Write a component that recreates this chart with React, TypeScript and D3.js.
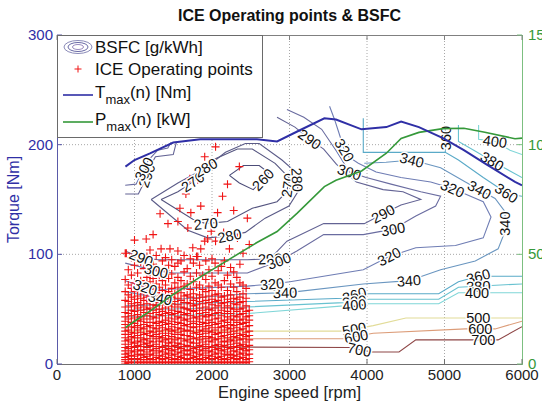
import React from "react";
import * as d3 from "d3";

const WIDTH = 542;
const HEIGHT = 406;
const FONT = "'Liberation Sans', Arial, Helvetica, sans-serif";

// ---- axis ticks ----
const SPEED_TICKS = [0, 1000, 2000, 3000, 4000, 5000, 6000];
const TORQUE_TICKS = [0, 100, 200, 300];
const POWER_TICKS = [0, 50, 100, 150];
const SPEED_GRID = [1000, 2000, 3000, 4000, 5000];
const TORQUE_GRID = [100, 200];

// ---- full-load curves ----
const FULL_LOAD_RPM = [883, 1000, 1200, 1500, 1850, 2580, 2840, 3100, 3450, 3600, 3930, 4250, 4440, 4670, 4980, 5250, 5520, 5910, 6000];
const TMAX_NM = [180, 186, 192, 202, 205, 205, 203, 212, 224, 223, 214, 216, 221, 216, 206, 195, 183, 166, 163];
const PMAX_KW = [16.6, 19.5, 24.1, 31.7, 39.7, 55.4, 60.4, 68.8, 80.9, 83.8, 88.0, 96.1, 102.8, 105.6, 107.3, 107.5, 105.7, 102.7, 103.0];

// ---- BSFC iso-lines [rpm, Nm], with label anchors ----
type IsoLine = { level: number; path: [number, number][]; labels: [number, number][] };

const ISLAND_CONTOURS: IsoLine[] = [
  { level: 260, path: [[2225, 172], [2405, 181], [2609, 181], [2737, 174], [2532, 159], [2353, 165], [2225, 172]], labels: [[2660, 168]] },
  { level: 270, path: [[1343, 150], [1560, 157], [1752, 166], [2008, 186], [2328, 196], [2520, 196], [2814, 183], [2993, 170], [2967, 157], [2839, 148], [2520, 142], [2200, 130], [1919, 128], [1752, 132], [1343, 150]], labels: [[1752, 166], [1919, 128], [2980, 163]] },
  { level: 280, path: [[1215, 150], [1560, 165], [1919, 179], [2174, 193], [2430, 201], [2609, 201], [2903, 186], [3095, 174], [3108, 157], [2993, 144], [2686, 133], [2430, 120], [2225, 117], [1944, 115], [1688, 122], [1215, 150]], labels: [[1919, 179], [3100, 168], [2225, 117]] },
];

const MID_LOAD_CONTOURS: IsoLine[] = [
  { level: 290, path: [[880, 155], [1050, 155], [1140, 168], [1200, 180], [1270, 189], [1500, 191], [1540, 202]], labels: [[1150, 172]] },
  { level: 300, path: [[880, 163], [1020, 164], [1100, 175], [1180, 186], [1300, 195], [1430, 197], [1470, 202]], labels: [[1120, 178]] },
  { level: 290, path: [[880, 103], [1087, 97], [1305, 95], [2456, 95], [2750, 96], [2967, 112], [3441, 128], [3965, 128], [4208, 137], [4438, 145], [4694, 150], [4464, 157], [4208, 159], [3863, 166], [3607, 182], [3441, 196], [3261, 205], [3070, 216], [2839, 225]], labels: [[1087, 97], [2750, 96], [4208, 137], [3261, 205]] },
  { level: 300, path: [[880, 92], [1280, 85], [1500, 83], [2456, 83], [2865, 94], [3095, 103], [3441, 118], [3952, 118], [4336, 123], [4630, 135], [4886, 144], [4950, 153], [4694, 157], [4310, 164], [3990, 170], [3773, 175], [3607, 194], [3415, 214], [3185, 225], [2967, 232]], labels: [[1280, 85], [2865, 94], [4336, 123], [3773, 175]] },
  { level: 320, path: [[880, 76], [1138, 70], [1370, 68], [2456, 71], [2775, 73], [3006, 75], [3952, 86], [4285, 98], [4630, 106], [5142, 108], [5500, 115], [5600, 134], [5500, 148], [5103, 160], [4822, 166], [4438, 170], [4118, 175], [3888, 183], [3760, 189], [3709, 195], [3632, 212], [3581, 223], [3517, 235]], labels: [[1138, 70], [2775, 73], [4285, 98], [5103, 160], [3709, 195]] },
];

const HIGH_LOAD_CONTOURS: IsoLine[] = [
  { level: 340, path: [[880, 66], [1330, 60], [1560, 59], [2456, 64], [2942, 65], [3095, 66], [3952, 73], [4541, 76], [4950, 86], [5397, 94], [5692, 105], [5781, 121], [5781, 139], [5653, 151], [5270, 166], [4950, 179], [4579, 186], [4246, 184], [3965, 183]], labels: [[1330, 60], [2942, 65], [4541, 76], [5781, 128], [5460, 160], [4579, 186]] },
  { level: 360, path: [[6000, 153], [5820, 155], [5500, 170], [5180, 186], [5010, 193], [3952, 193], [3952, 224]], labels: [[5820, 158]] },
  { level: 360, path: [[5010, 193], [5010, 205], [5010, 218]], labels: [[5010, 206]] },
  { level: 380, path: [[5180, 218], [5180, 203], [5400, 194], [5615, 185], [5845, 176], [6000, 170]], labels: [[5615, 185]] },
  { level: 400, path: [[5440, 218], [5440, 205], [5650, 203], [5845, 195], [6000, 191]], labels: [[5650, 203]] },
  { level: 360, path: [[880, 53], [2456, 57], [3696, 60], [3837, 63], [4029, 64], [4925, 64], [5180, 75], [5436, 80], [6000, 80]], labels: [[3837, 63], [5436, 80]] },
  { level: 380, path: [[880, 49], [2456, 52], [3696, 56], [4029, 59], [4925, 59], [5180, 70], [6000, 73]], labels: [[3837, 57], [5436, 72]] },
  { level: 400, path: [[880, 43], [2456, 46], [3696, 53], [4029, 55], [4925, 55], [5180, 65], [6000, 65]], labels: [[3837, 54], [5420, 65]] },
];

const LOW_LOAD_CONTOURS: IsoLine[] = [
  { level: 500, path: [[880, 30], [2967, 30], [3696, 30], [4080, 35], [4502, 42], [5270, 42], [6000, 42]], labels: [[3837, 31], [5436, 42]] },
  { level: 600, path: [[880, 23], [3696, 23], [4080, 28], [5270, 32], [5653, 32], [6000, 39]], labels: [[3863, 24], [5461, 32]] },
  { level: 700, path: [[880, 16], [3770, 15], [4054, 11], [4413, 11], [4630, 22], [5692, 22], [6000, 34]], labels: [[3900, 13], [5500, 22]] },
];

const LEVEL_COLORS: Record<number, string> = {
  260: "#4c4c78", 270: "#54547f", 280: "#5b5b88", 290: "#636394", 300: "#6a6ca0",
  320: "#6f7db4", 340: "#6a96c0", 360: "#5aaac8", 380: "#68c2d0", 400: "#80d6d8",
  500: "#e2dc98", 600: "#dc9c78", 700: "#8e4646",
};

// ---- ICE operating points: speed columns [rpm] and torque samples [Nm] ----
const OP_SPEEDS = [880, 920, 960, 1000, 1040, 1080, 1120, 1160, 1200, 1240, 1280, 1320, 1360, 1400, 1440, 1480, 1520, 1560, 1600, 1640, 1680, 1720, 1760, 1800, 1840, 1880, 1920, 1960, 2000, 2040, 2080, 2120, 2160, 2200, 2240, 2280, 2320, 2360, 2400, 2440, 2480];
const OP_TORQUES: number[][] = [
  [0, 2, 4, 6, 9, 12, 15, 18, 21, 24, 27, 30, 33, 36, 39, 43, 47, 52, 58, 66, 77, 101],
  [1, 4, 7, 10, 14, 18, 22, 27, 31, 36, 41, 46, 52, 57, 63, 72, 86],
  [2, 5, 8, 12, 16, 20, 25, 29, 34, 38, 44, 49, 55, 61, 69, 81, 97],
  [1, 4, 7, 11, 15, 19, 24, 28, 33, 37, 42, 48, 53, 59, 66, 74, 90, 113],
  [2, 5, 9, 13, 17, 21, 26, 31, 35, 40, 45, 51, 56, 62, 71, 83],
  [1, 4, 8, 12, 16, 20, 24, 29, 33, 39, 43, 49, 54, 60, 67, 76, 93],
  [2, 6, 9, 13, 18, 22, 27, 32, 36, 41, 47, 52, 58, 64, 72, 87],
  [1, 4, 7, 11, 15, 19, 23, 28, 34, 38, 44, 50, 55, 61, 70, 79, 98],
  [2, 5, 9, 13, 17, 21, 26, 30, 35, 41, 46, 51, 57, 63, 75, 84, 104],
  [1, 4, 8, 12, 16, 20, 25, 29, 33, 38, 43, 49, 54, 60, 68, 78, 91],
  [2, 6, 10, 14, 18, 23, 27, 32, 37, 42, 47, 53, 58, 65, 73, 88, 99],
  [1, 5, 8, 12, 16, 21, 25, 30, 35, 39, 45, 50, 56, 62, 70, 81],
  [2, 4, 7, 11, 15, 20, 24, 28, 33, 38, 44, 48, 54, 60, 67, 76, 94],
  [1, 5, 9, 13, 17, 22, 26, 31, 36, 40, 46, 51, 57, 63, 72, 85, 97],
  [2, 6, 10, 14, 19, 23, 28, 32, 37, 42, 47, 53, 59, 66, 78, 90],
  [1, 4, 8, 12, 16, 20, 25, 30, 34, 39, 45, 49, 55, 61, 69, 82, 95],
  [2, 5, 9, 13, 17, 22, 27, 31, 36, 41, 46, 52, 57, 64, 74, 89],
  [1, 4, 7, 11, 15, 19, 24, 29, 33, 38, 43, 48, 54, 60, 70, 79, 92],
  [2, 6, 10, 14, 18, 23, 27, 32, 37, 42, 47, 52, 58, 65, 76, 94],
  [1, 5, 8, 12, 16, 21, 26, 30, 35, 40, 45, 51, 56, 62, 71, 84, 99],
  [2, 4, 9, 13, 17, 22, 26, 31, 36, 41, 46, 50, 56, 63, 73, 87],
  [1, 5, 8, 12, 16, 20, 25, 30, 34, 39, 44, 49, 55, 61, 68, 80, 96],
  [2, 6, 10, 14, 19, 23, 28, 33, 37, 42, 48, 53, 58, 64, 75, 92],
  [1, 4, 7, 11, 15, 19, 24, 29, 34, 39, 43, 49, 54, 60, 70, 83, 98],
  [2, 5, 9, 13, 17, 22, 27, 31, 36, 41, 46, 51, 57, 63, 72, 90],
  [1, 4, 8, 12, 16, 20, 25, 30, 34, 38, 44, 49, 55, 61, 68, 81],
  [2, 6, 10, 14, 18, 23, 28, 32, 37, 43, 47, 52, 58, 66, 77, 94],
  [1, 5, 8, 12, 16, 21, 25, 30, 35, 40, 45, 50, 56, 62, 71, 86],
  [2, 4, 7, 11, 15, 20, 24, 29, 33, 38, 44, 49, 54, 59, 67, 80, 96],
  [1, 5, 9, 13, 17, 22, 27, 31, 36, 41, 46, 51, 57, 63, 74, 92],
  [2, 6, 10, 14, 18, 23, 28, 33, 37, 42, 47, 53, 58, 64, 72, 85],
  [1, 4, 7, 12, 16, 20, 25, 29, 34, 39, 44, 49, 55, 61, 70, 89],
  [2, 5, 9, 13, 17, 21, 26, 31, 35, 40, 46, 51, 56, 62, 76, 94],
  [1, 4, 8, 11, 15, 20, 24, 29, 33, 38, 43, 48, 53, 59, 67, 81],
  [2, 6, 9, 14, 18, 22, 27, 32, 36, 41, 46, 51, 57, 63, 73, 88],
  [1, 5, 8, 12, 16, 21, 25, 30, 35, 40, 44, 50, 55, 60, 70, 84],
  [2, 4, 7, 11, 15, 19, 24, 28, 33, 38, 43, 48, 54, 59, 66, 79],
  [1, 5, 9, 13, 17, 22, 26, 31, 36, 40, 45, 50, 56, 61, 74, 91],
  [2, 6, 10, 14, 18, 23, 27, 32, 37, 41, 46, 51, 57, 64, 72],
  [1, 4, 8, 12, 16, 20, 25, 29, 34, 38, 43, 48, 53, 60, 69],
  [2, 5, 9, 13, 17, 22, 26, 30, 35, 40, 44, 49],
];
// sparse high-load operating points [rpm, Nm]
const OP_UPPER: [number, number][] = [
  [2046, 198], [1906, 189], [2353, 180], [1714, 169], [1816, 168], [2200, 164], [2136, 153], [1663, 155],
  [1855, 144], [1330, 137], [1586, 142], [1727, 138], [2072, 138], [1432, 128], [1560, 130], [1688, 124],
  [2456, 133], [1151, 114], [1343, 105], [1458, 105], [1560, 103], [1752, 106], [1855, 105], [1906, 112],
  [1944, 114], [2046, 112], [2225, 105], [2328, 115], [2481, 109], [895, 101], [1816, 98], [2280, 140],
  [1990, 121], [2150, 120], [1240, 118], [2400, 101],
];

function App() {
  const x = d3.scaleLinear().domain([0, 6000]).range([57, 522]);
  const yT = d3.scaleLinear().domain([0, 300]).range([364, 35]);
  const yP = d3.scaleLinear().domain([0, 150]).range([364, 35]);
  const [x0, x1] = x.range();
  const [yb, yt] = yT.range();

  const isoLine = d3.line<[number, number]>().x((d) => x(d[0])).y((d) => yT(d[1]));
  const tmaxLine = d3.line<number>().x((_, i) => x(FULL_LOAD_RPM[i])).y((d) => yT(d));
  const pmaxLine = d3.line<number>().x((_, i) => x(FULL_LOAD_RPM[i])).y((d) => yP(d));

  const contours = [...LOW_LOAD_CONTOURS, ...HIGH_LOAD_CONTOURS, ...MID_LOAD_CONTOURS, ...ISLAND_CONTOURS];

  // nearest point on an iso-line and the local direction, for inline labels
  const placeLabel = (path: [number, number][], at: [number, number]) => {
    const P = path.map(([r, t]) => [x(r), yT(t)]);
    const ax = x(at[0]);
    const ay = yT(at[1]);
    let best = { d: Infinity, px: ax, py: ay, ang: 0 };
    for (let i = 0; i < P.length - 1; i++) {
      const [xa, ya] = P[i];
      const [xb, yb2] = P[i + 1];
      const dx = xb - xa;
      const dy = yb2 - ya;
      const L2 = dx * dx + dy * dy || 1;
      let t = ((ax - xa) * dx + (ay - ya) * dy) / L2;
      t = Math.max(0, Math.min(1, t));
      const px = xa + t * dx;
      const py = ya + t * dy;
      const d = (px - ax) ** 2 + (py - ay) ** 2;
      if (d < best.d) {
        let ang = (Math.atan2(dy, dx) * 180) / Math.PI;
        if (ang >= 90) ang -= 180;
        if (ang < -90) ang += 180;
        best = { d, px, py, ang };
      }
    }
    return best;
  };

  const points: [number, number][] = OP_SPEEDS.flatMap((rpm, i) =>
    OP_TORQUES[i].map((t) => [rpm, t] as [number, number])
  ).concat(OP_UPPER);
  const crossPath = points
    .map(([r, t]) => {
      const cx = x(r);
      const cy = yT(t);
      return `M${cx - 4},${cy}h8M${cx},${cy - 4}v8`;
    })
    .join("");

  const blue = "#2f2fa6";
  const green = "#35993a";

  return (
    <svg width={WIDTH} height={HEIGHT} style={{ position: "absolute", left: 0, top: 0, background: "#fff" }} fontFamily={FONT}>
      <defs>
        <clipPath id="plotArea">
          <rect x={x0} y={yt} width={x1 - x0} height={yb - yt} />
        </clipPath>
      </defs>
      <rect x={0} y={0} width={WIDTH} height={HEIGHT} fill="#fff" />

      {/* grid */}
      <g stroke="#a8a8a8" strokeWidth={1} strokeDasharray="1,2">
        {SPEED_GRID.map((s) => (
          <line key={s} x1={x(s)} x2={x(s)} y1={yt} y2={yb} />
        ))}
        {TORQUE_GRID.map((t) => (
          <line key={t} x1={x0} x2={x1} y1={yT(t)} y2={yT(t)} />
        ))}
      </g>

      <g clipPath="url(#plotArea)">
        {/* BSFC iso-lines */}
        <g fill="none" strokeWidth={1.1}>
          {contours.map((c, i) => (
            <path key={i} d={isoLine(c.path) || ""} stroke={LEVEL_COLORS[c.level]} />
          ))}
        </g>

        {/* operating points */}
        <path d={crossPath} stroke="#f01414" strokeWidth={1.1} fill="none" />

        {/* iso-line labels */}
        <g fontSize={14.5} fill="#111" textAnchor="middle" stroke="#fff" strokeWidth={3} paintOrder="stroke" strokeLinejoin="round">
          {contours.flatMap((c, i) =>
            c.labels.map((at, j) => {
              const p = placeLabel(c.path, at);
              return (
                <text key={`${i}-${j}`} transform={`translate(${p.px},${p.py}) rotate(${p.ang})`} dy="0.36em">
                  {c.level}
                </text>
              );
            })
          )}
        </g>

        {/* full-load torque and power */}
        <path d={pmaxLine(PMAX_KW) || ""} fill="none" stroke={green} strokeWidth={1.6} />
        <path d={tmaxLine(TMAX_NM) || ""} fill="none" stroke={blue} strokeWidth={2} />
      </g>

      {/* frame */}
      <line x1={x0} x2={x1} y1={yt + 0.5} y2={yt + 0.5} stroke="#808080" />
      <line x1={x0} x2={x1} y1={yb + 0.5} y2={yb + 0.5} stroke="#707070" />
      <line x1={x0 + 0.5} x2={x0 + 0.5} y1={yt} y2={yb + 1} stroke="#5a5aa8" />
      <line x1={x1 + 0.5} x2={x1 + 0.5} y1={yt} y2={yb + 1} stroke="#7cbf80" />

      {/* speed axis */}
      <g>
        {SPEED_TICKS.map((s) => (
          <g key={s}>
            <line x1={x(s)} x2={x(s)} y1={yb} y2={yb - 5} stroke="#707070" />
            <line x1={x(s)} x2={x(s)} y1={yt} y2={yt + 5} stroke="#808080" />
            <text x={x(s)} y={380} fontSize={15} fill="#222" textAnchor="middle">
              {s}
            </text>
          </g>
        ))}
        <text x={(x0 + x1) / 2} y={398} fontSize={16.5} fill="#222" textAnchor="middle">
          Engine speed [rpm]
        </text>
      </g>

      {/* torque axis */}
      <g>
        {TORQUE_TICKS.map((t) => (
          <g key={t}>
            <line x1={x0} x2={x0 + 5} y1={yT(t)} y2={yT(t)} stroke="#5a5aa8" />
            <text x={53} y={yT(t) + 5} fontSize={15} fill={blue} textAnchor="end">
              {t}
            </text>
          </g>
        ))}
        <text transform={`translate(19,${(yt + yb) / 2}) rotate(-90)`} fontSize={16} fill={blue} textAnchor="middle">
          Torque [Nm]
        </text>
      </g>

      {/* power axis */}
      <g>
        {POWER_TICKS.map((p) => (
          <g key={p}>
            <line x1={x1} x2={x1 - 5} y1={yP(p)} y2={yP(p)} stroke="#7cbf80" />
            <text x={528} y={yP(p) + 5} fontSize={15} fill={green} textAnchor="start">
              {p}
            </text>
          </g>
        ))}
      </g>

      {/* title */}
      <text x={(x0 + x1) / 2} y={21} fontSize={16} fontWeight="bold" fill="#111" textAnchor="middle">
        ICE Operating points &amp; BSFC
      </text>

      {/* legend */}
      <g>
        <rect x={x0 + 0.5} y={yt + 0.5} width={205} height={102} fill="#fff" stroke="#6a6a6a" />
        <g fill="none">
          <ellipse cx={78} cy={47} rx={14} ry={6.5} stroke="#8a8ab8" />
          <ellipse cx={78} cy={47} rx={10} ry={4.5} stroke="#6a6aa6" />
          <ellipse cx={78} cy={47} rx={5.5} ry={2.5} stroke="#9a8ac0" />
        </g>
        <text x={95} y={53} fontSize={17} fill="#111">BSFC [g/kWh]</text>
        <path d="M74.5,69h7M78,65.5v7" stroke="#f01414" strokeWidth={1} />
        <text x={95} y={75} fontSize={17} fill="#111">ICE Operating points</text>
        <line x1={63} x2={93} y1={95} y2={95} stroke={blue} strokeWidth={1.6} />
        <text x={95} y={98} fontSize={17} fill="#111">
          T<tspan fontSize={13} dy={6}>max</tspan>
          <tspan dy={-6}>(n) [Nm]</tspan>
        </text>
        <line x1={63} x2={93} y1={122} y2={122} stroke={green} strokeWidth={1.6} />
        <text x={95} y={125} fontSize={17} fill="#111">
          P<tspan fontSize={13} dy={6}>max</tspan>
          <tspan dy={-6}>(n) [kW]</tspan>
        </text>
      </g>
    </svg>
  );
}

export default App;
